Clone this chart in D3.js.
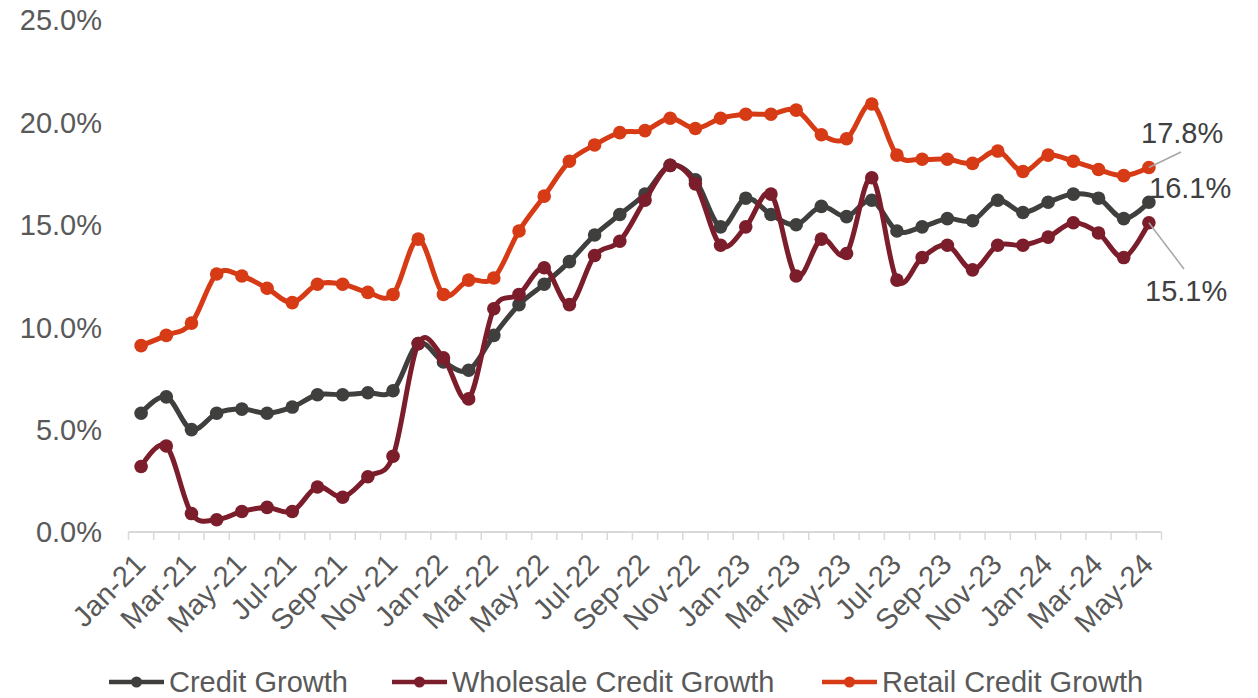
<!DOCTYPE html>
<meta charset="utf-8">
<script src="https://cdn.jsdelivr.net/npm/d3@7"></script>
<style>
    body { margin: 0; background: #fff; }
    svg text { font-family: "Liberation Sans", Arial, sans-serif; }
</style>
<svg width="1258" height="698"></svg>
<script>
    // chart data
    var months = ["Jan-21", "Feb-21", "Mar-21", "Apr-21", "May-21", "Jun-21", "Jul-21", "Aug-21", "Sep-21", "Oct-21", "Nov-21", "Dec-21",
        "Jan-22", "Feb-22", "Mar-22", "Apr-22", "May-22", "Jun-22", "Jul-22", "Aug-22", "Sep-22", "Oct-22", "Nov-22", "Dec-22",
        "Jan-23", "Feb-23", "Mar-23", "Apr-23", "May-23", "Jun-23", "Jul-23", "Aug-23", "Sep-23", "Oct-23", "Nov-23", "Dec-23",
        "Jan-24", "Feb-24", "Mar-24", "Apr-24", "May-24"];

    var creditGrowth = [5.8, 6.6, 5.0, 5.8, 6.0, 5.8, 6.1, 6.7, 6.7, 6.8, 6.9, 9.2,
        8.3, 7.9, 9.6, 11.1, 12.1, 13.2, 14.5, 15.5, 16.5, 17.9, 17.2, 14.9,
        16.3, 15.5, 15.0, 15.9, 15.4, 16.2, 14.7, 14.9, 15.3, 15.2, 16.2, 15.6,
        16.1, 16.5, 16.3, 15.3, 16.1];

    var wholesaleGrowth = [3.2, 4.2, 0.9, 0.6, 1.0, 1.2, 1.0, 2.2, 1.7, 2.7, 3.7, 9.2,
        8.5, 6.5, 10.9, 11.6, 12.9, 11.1, 13.5, 14.2, 16.2, 17.9, 17.0, 14.0,
        14.9, 16.5, 12.5, 14.3, 13.6, 17.3, 12.3, 13.4, 14.0, 12.8, 14.0, 14.0,
        14.4, 15.1, 14.6, 13.4, 15.1];

    var retailGrowth = [9.1, 9.6, 10.2, 12.6, 12.5, 11.9, 11.2, 12.1, 12.1, 11.7, 11.6, 14.3,
        11.6, 12.3, 12.4, 14.7, 16.4, 18.1, 18.9, 19.5, 19.6, 20.2, 19.7, 20.2,
        20.4, 20.4, 20.6, 19.4, 19.2, 20.9, 18.4, 18.2, 18.2, 18.0, 18.6, 17.6,
        18.4, 18.1, 17.7, 17.4, 17.8];

    var yTicks = [0, 5, 10, 15, 20, 25];

    var series = [
        {name: "Credit Growth", values: creditGrowth, color: "#3f3f3d"},
        {name: "Wholesale Credit Growth", values: wholesaleGrowth, color: "#7c1d2b"},
        {name: "Retail Credit Growth", values: retailGrowth, color: "#d63b16"}
    ];

    var svg = d3.select("svg");

    var x = d3.scaleBand().domain(months).range([128.5, 1161.5]);
    var y = d3.scaleLinear().domain([0, 25]).range([532, 20]);

    function cx(m) { return x(m) + x.bandwidth() / 2; }

    // y axis labels (no line, no grid)
    svg.append("g").selectAll("text")
        .data(yTicks)
        .enter().append("text")
        .attr("x", 102)
        .attr("y", function (d) { return y(d); })
        .attr("dy", "0.36em")
        .attr("text-anchor", "end")
        .attr("font-size", 29)
        .attr("fill", "#595959")
        .text(function (d) { return d.toFixed(1) + "%"; });

    // x axis line + ticks at category boundaries
    var xAxis = svg.append("g");
    xAxis.append("line")
        .attr("x1", x.range()[0]).attr("x2", x.range()[1])
        .attr("y1", y(0)).attr("y2", y(0))
        .attr("stroke", "#d9d9d9").attr("stroke-width", 2);
    var bounds = months.map(function (m) { return x(m); }).concat([x.range()[1]]);
    xAxis.selectAll("line.tick")
        .data(bounds)
        .enter().append("line")
        .attr("class", "tick")
        .attr("x1", function (d) { return d; }).attr("x2", function (d) { return d; })
        .attr("y1", y(0)).attr("y2", y(0) + 8)
        .attr("stroke", "#d9d9d9").attr("stroke-width", 1.5);

    xAxis.selectAll("text")
        .data(months.filter(function (m, i) { return i % 2 === 0; }))
        .enter().append("text")
        .attr("transform", function (d) { return "translate(" + (cx(d) + 6) + ",566) rotate(-45)"; })
        .attr("text-anchor", "end")
        .attr("font-size", 29)
        .attr("fill", "#595959")
        .text(function (d) { return d; });

    // lines and markers
    var line = d3.line()
        .x(function (d, i) { return cx(months[i]); })
        .y(function (d) { return y(d); })
        .curve(d3.curveCatmullRom.alpha(0));

    series.forEach(function (s) {
        var g = svg.append("g");
        g.append("path")
            .attr("d", line(s.values))
            .attr("fill", "none")
            .attr("stroke", s.color)
            .attr("stroke-width", 5)
            .attr("stroke-linejoin", "round");
        g.selectAll("circle")
            .data(s.values)
            .enter().append("circle")
            .attr("cx", function (d, i) { return cx(months[i]); })
            .attr("cy", function (d) { return y(d); })
            .attr("r", 6.8)
            .attr("fill", s.color);
    });

    // end labels
    var last = months[months.length - 1];
    var lx = cx(last);
    var ann = svg.append("g");
    ann.append("line")
        .attr("x1", lx).attr("y1", y(retailGrowth[40]))
        .attr("x2", 1181).attr("y2", 152)
        .attr("stroke", "#a6a6a6").attr("stroke-width", 1.5);
    ann.append("line")
        .attr("x1", lx).attr("y1", y(wholesaleGrowth[40]))
        .attr("x2", 1184).attr("y2", 269)
        .attr("stroke", "#a6a6a6").attr("stroke-width", 1.5);
    var annLabels = [
        {v: retailGrowth[40], x: 1141, y: 143},
        {v: creditGrowth[40], x: 1149, y: 198},
        {v: wholesaleGrowth[40], x: 1145, y: 301}
    ];
    ann.selectAll("text")
        .data(annLabels)
        .enter().append("text")
        .attr("x", function (d) { return d.x; })
        .attr("y", function (d) { return d.y; })
        .attr("font-size", 29)
        .attr("fill", "#404040")
        .text(function (d) { return d.v.toFixed(1) + "%"; });

    // legend
    var legendX = [109, 392, 822];
    var legend = svg.append("g").selectAll("g")
        .data(series)
        .enter().append("g")
        .attr("transform", function (d, i) { return "translate(" + legendX[i] + ",682)"; });
    legend.append("line")
        .attr("x1", 0).attr("x2", 55)
        .attr("stroke", function (d) { return d.color; })
        .attr("stroke-width", 4.5);
    legend.append("circle")
        .attr("cx", 27.5).attr("r", 5.5)
        .attr("fill", function (d) { return d.color; });
    legend.append("text")
        .attr("x", 60)
        .attr("dy", "0.36em")
        .attr("font-size", 29)
        .attr("fill", "#595959")
        .text(function (d) { return d.name; });
</script>
